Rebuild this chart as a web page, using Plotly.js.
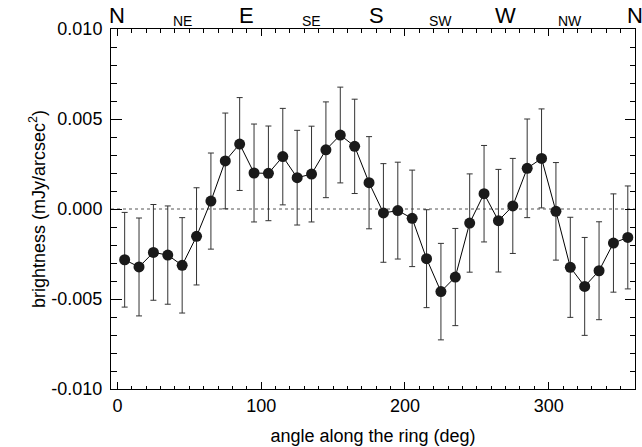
<!DOCTYPE html>
<html><head><meta charset="utf-8">
<script src="https://cdn.plot.ly/plotly-3.0.1.min.js"></script>
<style>html,body{margin:0;padding:0;background:#fff}#plot{width:642px;height:447px}</style>
</head><body><div id="plot"></div>
<script>
const angle = [5,15,25,35,45,55,65,75,85,95,105,115,125,135,145,155,165,175,185,195,205,215,225,235,245,255,265,275,285,295,305,315,325,335,345,355];
const brightness = [-0.00282,-0.00322,-0.00241,-0.00256,-0.00313,-0.00152,0.00044,0.00267,0.00361,0.00200,0.00198,0.00291,0.00174,0.00194,0.00329,0.00411,0.00348,0.00146,-0.00022,-0.00009,-0.00052,-0.00276,-0.00459,-0.00378,-0.00078,0.00085,-0.00065,0.00017,0.00226,0.00281,-0.00013,-0.00324,-0.00430,-0.00343,-0.00189,-0.00158];
const errors = [0.00263,0.00272,0.00266,0.00273,0.00265,0.00270,0.00267,0.00266,0.00258,0.00272,0.00263,0.00268,0.00263,0.00266,0.00266,0.00266,0.00262,0.00256,0.00274,0.00269,0.00268,0.00272,0.00268,0.00270,0.00273,0.00268,0.00285,0.00264,0.00274,0.00275,0.00271,0.00278,0.00272,0.00272,0.00273,0.00286];
const dirAngles = [0,45,90,135,180,225,270,315,360];
const dirLabels = ['N','NE','E','SE','S','SW','W','NW','N'];
const yTicks = [-0.010,-0.005,0,0.005,0.010];
const yTickText = ['-0.010','-0.005','0.000','0.005','0.010'];
const xTicks = [0,100,200,300];

const font = 'Liberation Sans, Arial, Helvetica, sans-serif';
const trace = {
  x: angle, y: brightness, type: 'scatter', mode: 'lines+markers',
  line: {color: '#000', width: 1},
  marker: {color: '#1a1a1a', size: 11},
  error_y: {type: 'data', array: errors, visible: true, color: '#333', thickness: 1, width: 3},
  showlegend: false, cliponaxis: false
};
const annotations = dirAngles.map((a, i) => {
  const big = dirLabels[i].length === 1;
  return {x: a, xref: 'x', y: big ? 1.037 : 1.022, yref: 'paper', text: dirLabels[i], showarrow: false,
    xanchor: 'center', yanchor: 'middle', font: {family: font, size: big ? 22 : 14, color: '#000'}};
});
const layout = {
  width: 642, height: 447,
  margin: {l: 111, r: 7, t: 29, b: 58},
  paper_bgcolor: '#fff', plot_bgcolor: '#fff',
  font: {family: font, color: '#000'},
  xaxis: {
    range: [-4.5, 360], tickvals: xTicks, ticktext: xTicks.map(String),
    ticks: 'inside', ticklen: 7, tickwidth: 1, tickcolor: '#000',
    minor: {dtick: 10, tick0: 0, ticks: 'inside', ticklen: 3.5, tickcolor: '#000', showgrid: false},
    showline: true, linecolor: '#000', linewidth: 1, mirror: 'allticks',
    showgrid: false, zeroline: false,
    tickfont: {family: font, size: 18, color: '#000'},
    title: {text: 'angle along the ring (deg)', font: {family: font, size: 18, color: '#000'}, standoff: 14}
  },
  yaxis: {
    range: [-0.010, 0.010], tickvals: yTicks, ticktext: yTickText,
    ticks: 'inside', ticklen: 10.5, tickwidth: 1, tickcolor: '#000',
    minor: {dtick: 0.001, tick0: 0, ticks: 'inside', ticklen: 5.5, tickcolor: '#000', showgrid: false},
    showline: true, linecolor: '#000', linewidth: 1, mirror: 'allticks',
    showgrid: false, zeroline: false,
    tickfont: {family: font, size: 18, color: '#000'}, ticklabelstandoff: 4,
    title: {text: 'brightness (mJy/arcsec<sup>2</sup>)', font: {family: font, size: 18, color: '#000'}, standoff: 1}
  },
  shapes: [{type: 'line', xref: 'paper', x0: 0, x1: 1, yref: 'y', y0: 0, y1: 0,
    line: {color: '#555', width: 1, dash: 'dot'}, layer: 'below'}],
  annotations: annotations
};
Plotly.newPlot('plot', [trace], layout, {displayModeBar: false, staticPlot: true});
</script></body></html>
